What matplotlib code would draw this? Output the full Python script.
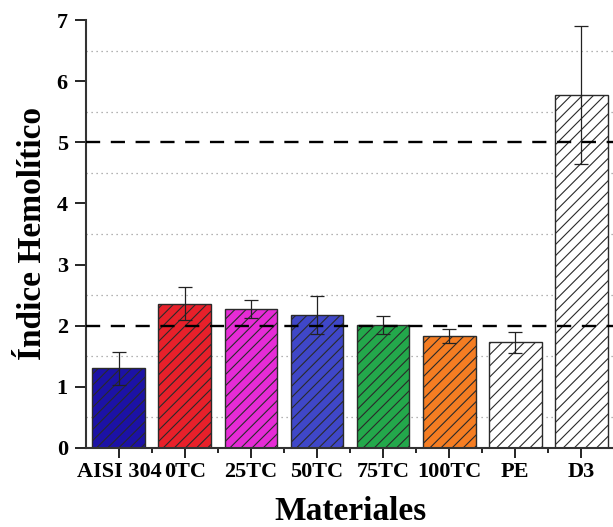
import matplotlib
matplotlib.use("Agg")
import matplotlib.pyplot as plt
import numpy as np

categories = ["AISI 304", "0TC", "25TC", "50TC", "75TC", "100TC", "PE", "D3"]
values = [1.30, 2.36, 2.27, 2.18, 2.01, 1.83, 1.73, 5.77]
errors = [0.27, 0.27, 0.15, 0.31, 0.15, 0.11, 0.17, 1.13]
colors = ["#1c12a6", "#e8202a", "#e62bd6", "#3f47c8", "#23a84b", "#f57d22", "#ffffff", "#ffffff"]
yticks = [0, 1, 2, 3, 4, 5, 6, 7]
grid_dotted = [0.5, 1.5, 2.5, 3.5, 4.5, 5.5, 6.5]
ref_dashed = [2, 5]

plt.rcParams['font.family'] = ['Liberation Serif', 'DejaVu Serif']
plt.rcParams['hatch.linewidth'] = 0.8

fig = plt.figure(figsize=(6.13, 5.27), dpi=100)
ax = fig.add_axes([0.140, 0.150, 0.862, 0.812])

x = np.arange(len(categories))
for yv in grid_dotted:
    ax.axhline(yv, color="#9a9a9a", linestyle=(0, (1, 3)), linewidth=0.9, zorder=0)

ax.bar(x, values, width=0.8, color=colors, edgecolor="#2a2a2a", linewidth=1.0,
       hatch="///", zorder=2)
ax.errorbar(x, values, yerr=errors, fmt="none", ecolor="#222222", elinewidth=0.9,
            capsize=5, capthick=0.9, zorder=3)

for yv in ref_dashed:
    ax.axhline(yv, color="black", linestyle=(0, (6, 4.5)), linewidth=1.7, zorder=4)

ax.set_xlim(-0.5, len(categories) - 0.5)
ax.set_ylim(0, 7)
ax.set_yticks(yticks)
ax.set_yticklabels([str(t) for t in yticks], fontsize=16, fontweight="bold")
ax.set_xticks(x)
ax.set_xticklabels(categories, fontsize=16, fontweight="bold")
ax.set_xticks(x[:-1] + 0.5, minor=True)
ax.tick_params(axis="x", which="major", direction="out", length=7, width=1.2, pad=3)
ax.tick_params(axis="x", which="minor", direction="out", length=3.5, width=1.2)
ax.tick_params(axis="y", which="major", direction="out", length=8, width=1.2, pad=5)

for side in ["top", "right"]:
    ax.spines[side].set_visible(False)
for side in ["left", "bottom"]:
    ax.spines[side].set_linewidth(1.5)
    ax.spines[side].set_color("#333333")

ax.set_ylabel("Índice Hemolítico", fontsize=24, fontweight="bold", labelpad=6)
ax.set_xlabel("Materiales", fontsize=24, fontweight="bold", labelpad=10)

fig.savefig("out.png", dpi=100)
